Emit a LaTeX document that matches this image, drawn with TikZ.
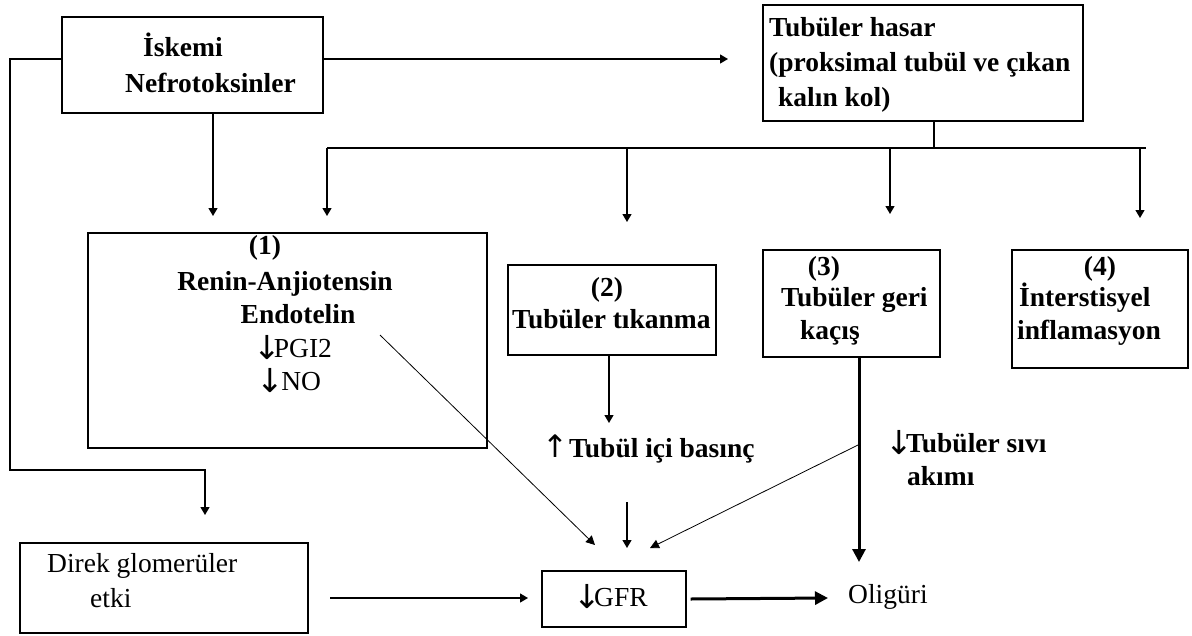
\documentclass[tikz,border=0pt]{standalone}
\usepackage{fontspec}
\setmainfont{Liberation Serif}
\newfontfamily\arrfont{DejaVu Sans}
\newcommand\dnarr{{\arrfont\mdseries\fontsize{33}{33}\selectfont\raisebox{-2pt}{\makebox[0.42em]{↓}}}}
\newcommand\uparr{{\arrfont\mdseries\fontsize{31}{31}\selectfont\makebox[0.42em]{↑}}}
\usetikzlibrary{arrows.meta,calc}
\begin{document}
\begin{tikzpicture}[x=1pt,y=-1pt,
  box/.style={draw, line width=1.3pt, inner sep=0pt, rectangle},
  lbl/.style={anchor=base west, inner sep=0pt, font=\fontsize{27.5}{33}\selectfont\bfseries},
  lblc/.style={anchor=base, inner sep=0pt, font=\fontsize{27.5}{33}\selectfont\bfseries},
  rlbl/.style={anchor=base west, inner sep=0pt, font=\fontsize{27.5}{33}\selectfont},
  rlblc/.style={anchor=base, inner sep=0pt, font=\fontsize{27.5}{33}\selectfont},
  plain/.style={line width=1.3pt},
  conn/.style={line width=1.3pt, -{Triangle[width=9pt,length=8pt]}},
  thickconn/.style={line width=3pt, -{Triangle[width=13pt,length=13pt]}},
  thinconn/.style={line width=0.8pt, -{Triangle[width=9pt,length=9pt]}}]
\useasboundingbox (0,0) rectangle (1192,635);

% boxes
\node[box, minimum width=261pt, minimum height=96pt] (isk) at (192.5,65) {};
\node[box, minimum width=320pt, minimum height=116pt] (tub) at (923,63) {};
\node[box, minimum width=399pt, minimum height=215pt] (b1) at (287.5,340.5) {};
\node[box, minimum width=208pt, minimum height=90pt] (b2) at (612,310) {};
\node[box, minimum width=177pt, minimum height=107pt] (b3) at (851.5,303.5) {};
\node[box, minimum width=176pt, minimum height=118pt] (b4) at (1100,309) {};
\node[box, minimum width=288pt, minimum height=90pt] (dir) at (164,588) {};
\node[box, minimum width=144pt, minimum height=56pt] (gfr) at (614,599) {};

% texts
\node[lbl] (t1a) at (143,56) {İskemi};
\node[lbl] (t1b) at (125,92) {Nefrotoksinler};
\node[lbl] (t2a) at (769,36) {Tubüler hasar};
\node[lbl] (t2b) at (769,71) {(proksimal tubül ve çıkan};
\node[lbl] (t2c) at (778,106) {kalın kol)};
\node[lblc] (t3a) at (265,254) {(1)};
\node[lblc] (t3b) at (285,290) {Renin-Anjiotensin};
\node[lblc] (t3c) at (298,323) {Endotelin};
\node[rlblc] (t3d) at (296,357) {\dnarr PGI2};
\node[rlblc] (t3e) at (292,390) {\dnarr\,NO};
\node[lblc] (t4a) at (607,296) {(2)};
\node[lbl] (t4b) at (512,328) {Tubüler tıkanma};
\node[lblc] (t5a) at (824,275) {(3)};
\node[lbl] (t5b) at (781,306) {Tubüler geri};
\node[lbl] (t5c) at (800,339) {kaçış};
\node[lblc] (t6a) at (1100,275) {(4)};
\node[lbl] (t6b) at (1019,306) {İnterstisyel};
\node[lbl] (t6c) at (1017,339) {inflamasyon};
\node[lbl] (t7) at (549,457) {\uparr\ Tubül içi basınç};
\node[lbl] (t8a) at (892,452) {\dnarr Tubüler sıvı};
\node[lbl] (t8b) at (907,485) {akımı};
\node[rlbl] (t9a) at (47,572) {Direk glomerüler};
\node[rlbl] (t9b) at (90,607) {etki};
\node[rlblc] (t10) at (614,606) {\dnarr GFR};
\node[rlbl] (olig) at (848,603) {Oligüri};

% coordinates
\coordinate (lc) at (10,470);
\coordinate (dtip) at (205,515);
\coordinate (ttip) at (728,59);
\coordinate (dn1) at (213,216);
\coordinate (br) at (934,148);
\coordinate (j1) at (327,148);
\coordinate (j2) at (627,148);
\coordinate (j3) at (890,148);
\coordinate (j4) at (1140,148);
\coordinate (a1) at (327,216);
\coordinate (a2) at (627,222);
\coordinate (a3) at (890,214);
\coordinate (a4) at (1140,218);
\coordinate (t2tip) at (609,423);
\coordinate (d1) at (380,335);
\coordinate (g1) at (595,545);
\coordinate (v1) at (627,502);
\coordinate (v1tip) at (627,548);
\coordinate (t3tip) at (859,562);
\coordinate (k3) at (858,445);
\coordinate (g3) at (650,548);
\coordinate (ds) at (330,598);
\coordinate (de) at (528,598);
\coordinate (otip) at (828,598);

% connectors
\draw[conn] ([yshift=6pt]isk.west) -| (lc) -| (dtip);
\draw[conn] ([yshift=6pt]isk.east) -- (ttip);
\draw[conn] (isk.south -| dn1) -- (dn1);
\draw[plain] (tub.south -| br) -- (br);
\draw[plain] (j1) -- ([xshift=6pt]j4);
\draw[conn] (j1) -- (a1);
\draw[conn] (j2) -- (a2);
\draw[conn] (j3) -- (a3);
\draw[conn] (j4) -- (a4);
\draw[conn] (b2.south -| t2tip) -- (t2tip);
\draw[thinconn] (d1) -- (g1);
\draw[conn] (v1) -- (v1tip);
\draw[thickconn] (b3.south -| t3tip) -- (t3tip);
\draw[thinconn] (k3) -- (g3);
\draw[conn] (ds) -- (de);
\draw[thickconn] ([xshift=4pt]gfr.east) -- (otip);
\end{tikzpicture}
\end{document}
